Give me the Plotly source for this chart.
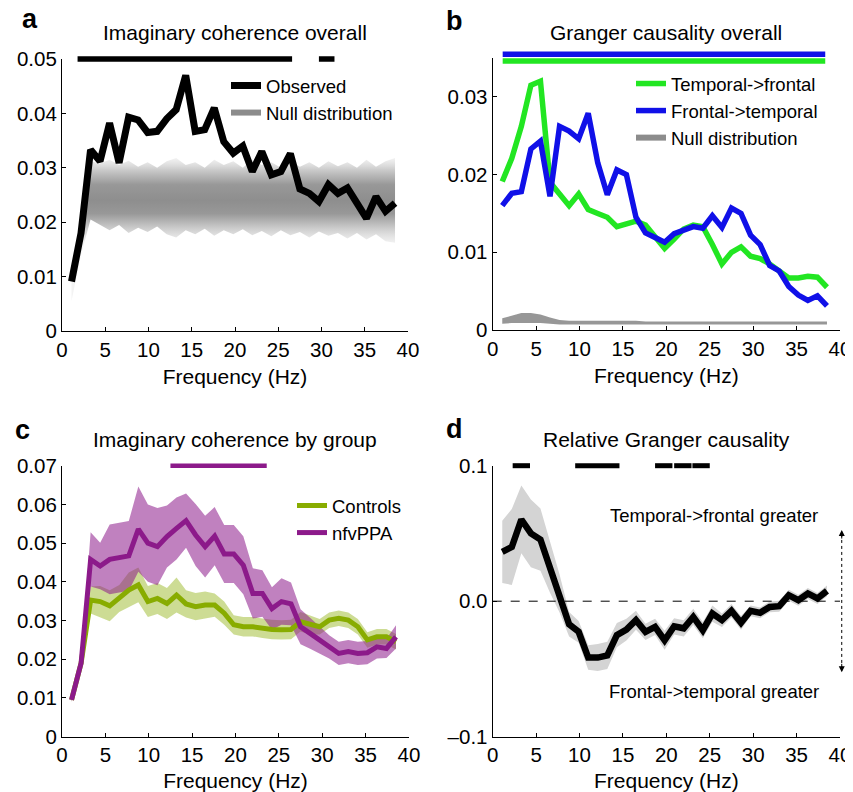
import plotly.graph_objects as go

# ---------------- data ----------------
freqs = [1.1, 2.2, 3.3, 4.4, 5.5, 6.6, 7.7, 8.8, 9.9, 11.0, 12.1, 13.2, 14.3, 15.4, 16.5,
         17.6, 18.7, 19.8, 20.9, 22.0, 23.1, 24.2, 25.3, 26.4, 27.5, 28.6, 29.7, 30.8,
         31.9, 33.0, 34.1, 35.2, 36.3, 37.4, 38.5]

# panel a
imcoh_observed = [0.0091, 0.0180, 0.0333, 0.0312, 0.0382, 0.0309, 0.0393, 0.0388, 0.0365,
                  0.0367, 0.0390, 0.0407, 0.0470, 0.0367, 0.0370, 0.0410, 0.0348, 0.0327,
                  0.0340, 0.0293, 0.0330, 0.0287, 0.0293, 0.0326, 0.0261, 0.0253, 0.0238,
                  0.0269, 0.0253, 0.0263, 0.0235, 0.0207, 0.0247, 0.0220, 0.0235]
imcoh_null_hi = [0.0100, 0.0200, 0.0312, 0.0308, 0.0315, 0.0305, 0.0313, 0.0302, 0.0310,
                 0.0300, 0.0312, 0.0318, 0.0305, 0.0310, 0.0300, 0.0315, 0.0305, 0.0312,
                 0.0300, 0.0315, 0.0305, 0.0310, 0.0300, 0.0312, 0.0302, 0.0310, 0.0300,
                 0.0312, 0.0303, 0.0310, 0.0300, 0.0315, 0.0302, 0.0312, 0.0318]
imcoh_null_lo = [0.0055, 0.0140, 0.0205, 0.0195, 0.0185, 0.0195, 0.0180, 0.0190, 0.0182,
                 0.0192, 0.0178, 0.0172, 0.0185, 0.0178, 0.0188, 0.0175, 0.0185, 0.0178,
                 0.0187, 0.0176, 0.0184, 0.0174, 0.0185, 0.0176, 0.0182, 0.0172, 0.0183,
                 0.0175, 0.0180, 0.0170, 0.0180, 0.0168, 0.0178, 0.0165, 0.0162]
imcoh_sig = [[1.8, 26.6], [29.7, 31.5]]

# panel b
gc_temp_front = [0.0191, 0.0221, 0.0262, 0.0315, 0.0320, 0.0190, 0.0175, 0.0160, 0.0175,
                 0.0155, 0.0150, 0.0145, 0.0133, 0.0137, 0.0140, 0.0135, 0.0120, 0.0105,
                 0.0117, 0.0130, 0.0135, 0.0133, 0.0110, 0.0085, 0.0100, 0.0107, 0.0095,
                 0.0092, 0.0085, 0.0075, 0.0067, 0.0067, 0.0069, 0.0068, 0.0055]
gc_front_temp = [0.0160, 0.0176, 0.0178, 0.0233, 0.0243, 0.0172, 0.0262, 0.0256, 0.0246,
                 0.0279, 0.0215, 0.0174, 0.0206, 0.0200, 0.0145, 0.0125, 0.0119, 0.0113,
                 0.0124, 0.0128, 0.0133, 0.0131, 0.0147, 0.0132, 0.0157, 0.0150, 0.0122,
                 0.0110, 0.0083, 0.0076, 0.0056, 0.0045, 0.0038, 0.0044, 0.0031]
gc_null_hi = [0.0015, 0.0019, 0.0022, 0.0022, 0.0020, 0.0016, 0.0013, 0.0012, 0.0012,
              0.0012, 0.0012, 0.0012, 0.0012, 0.0012, 0.0012, 0.0011, 0.0011, 0.0011,
              0.0011, 0.0011, 0.0011, 0.0011, 0.0011, 0.0011, 0.0011, 0.0011, 0.0011,
              0.0011, 0.0011, 0.0011, 0.0011, 0.0011, 0.0011, 0.0011, 0.0011]
gc_null_lo = [0.0008, 0.0009, 0.0009, 0.0009, 0.0009, 0.0008, 0.0007, 0.0007, 0.0007,
              0.0007, 0.0007, 0.0007, 0.0007, 0.0007, 0.0007, 0.0007, 0.0007, 0.0007,
              0.0007, 0.0007, 0.0007, 0.0007, 0.0007, 0.0007, 0.0007, 0.0007, 0.0007,
              0.0007, 0.0007, 0.0007, 0.0007, 0.0007, 0.0007, 0.0007, 0.0007]
gc_sig_front_temp = [1.15, 38.3]
gc_sig_temp_front = [1.15, 38.3]

# panel c
controls_mean = [0.0095, 0.0190, 0.0353, 0.0349, 0.0338, 0.0357, 0.0379, 0.0392, 0.0349,
                 0.0357, 0.0344, 0.0366, 0.0343, 0.0336, 0.0340, 0.0340, 0.0319, 0.0289,
                 0.0284, 0.0284, 0.0280, 0.0277, 0.0276, 0.0277, 0.0297, 0.0289, 0.0284,
                 0.0301, 0.0306, 0.0301, 0.0284, 0.0250, 0.0258, 0.0258, 0.0245]
controls_sem = [0.0005, 0.0010, 0.0035, 0.0040, 0.0040, 0.0035, 0.0045, 0.0045, 0.0040,
                0.0040, 0.0040, 0.0045, 0.0035, 0.0035, 0.0035, 0.0030, 0.0030, 0.0025,
                0.0025, 0.0025, 0.0025, 0.0025, 0.0025, 0.0025, 0.0025, 0.0025, 0.0020,
                0.0020, 0.0020, 0.0020, 0.0020, 0.0020, 0.0020, 0.0020, 0.0020]
nfvppa_mean = [0.0095, 0.0190, 0.0458, 0.0441, 0.0458, 0.0463, 0.0467, 0.0536, 0.0500,
               0.0491, 0.0517, 0.0538, 0.0558, 0.0521, 0.0491, 0.0518, 0.0472, 0.0472,
               0.0443, 0.0370, 0.0370, 0.0331, 0.0349, 0.0343, 0.0284, 0.0267, 0.0250,
               0.0232, 0.0215, 0.0220, 0.0215, 0.0217, 0.0232, 0.0228, 0.0258]
nfvppa_sem = [0.0005, 0.0010, 0.0070, 0.0060, 0.0090, 0.0090, 0.0090, 0.0110, 0.0100,
              0.0100, 0.0080, 0.0080, 0.0070, 0.0080, 0.0080, 0.0075, 0.0075, 0.0075,
              0.0075, 0.0065, 0.0060, 0.0055, 0.0060, 0.0055, 0.0045, 0.0040, 0.0035,
              0.0030, 0.0030, 0.0030, 0.0030, 0.0030, 0.0030, 0.0025, 0.0030]
group_sig = [12.5, 23.6]

# panel d
rel_gc_mean = [0.0364, 0.0400, 0.0603, 0.0500, 0.0455, 0.0253, 0.0057, -0.0170, -0.0226,
               -0.0416, -0.0416, -0.0400, -0.0250, -0.0210, -0.0140, -0.0226, -0.0190,
               -0.0288, -0.0185, -0.0200, -0.0116, -0.0214, -0.0091, -0.0140, -0.0071,
               -0.0160, -0.0071, -0.0086, -0.0042, -0.0037, 0.0044, 0.0007, 0.0057,
               0.0020, 0.0076]
rel_gc_err = [0.0230, 0.0280, 0.0250, 0.0250, 0.0230, 0.0190, 0.0140, 0.0090, 0.0080,
              0.0090, 0.0100, 0.0100, 0.0090, 0.0080, 0.0070, 0.0060, 0.0060, 0.0070,
              0.0060, 0.0060, 0.0060, 0.0060, 0.0060, 0.0050, 0.0050, 0.0050, 0.0040,
              0.0040, 0.0040, 0.0040, 0.0040, 0.0040, 0.0040, 0.0040, 0.0040]
rel_gc_sig = [[2.3, 4.3], [9.5, 14.6], [18.7, 20.7], [20.9, 22.9], [23.0, 25.0]]

x_ticks = [0, 5, 10, 15, 20, 25, 30, 35, 40]
ticks_a = [0, 0.01, 0.02, 0.03, 0.04, 0.05]
ticklab_a = ["0", "0.01", "0.02", "0.03", "0.04", "0.05"]
ticks_b = [0, 0.01, 0.02, 0.03]
ticklab_b = ["0", "0.01", "0.02", "0.03"]
ticks_c = [0, 0.01, 0.02, 0.03, 0.04, 0.05, 0.06, 0.07]
ticklab_c = ["0", "0.01", "0.02", "0.03", "0.04", "0.05", "0.06", "0.07"]
ticks_d = [-0.1, 0.0, 0.1]
ticklab_d = ["\u20130.1", "0.0", "0.1"]

# ---------------- styling ----------------
FONT = "Liberation Sans, Arial, Helvetica, sans-serif"
GREEN = "#22e622"
BLUE = "#1010e8"
OLIVE = "#88ac00"
PURPLE = "#8c1a8a"
GRAY = "#8c8c8c"

# the page body adds an 8 px margin; size the figure so it fills the window
OFF = 8
W, H = 853 - OFF, 792 - OFF


def px(X):
    return (X - OFF) / W


def py(Y):
    return 1 - (Y - OFF) / H


fig = go.Figure()


def band(x, lo, hi, xa, ya, color=None, **kw):
    fig.add_trace(go.Scatter(x=x, y=lo, mode="lines", line=dict(width=0),
                             xaxis=xa, yaxis=ya, showlegend=False, hoverinfo="skip"))
    fig.add_trace(go.Scatter(x=x, y=hi, mode="lines", line=dict(width=0), fill="tonexty",
                             fillcolor=color, xaxis=xa, yaxis=ya, showlegend=False,
                             hoverinfo="skip", **kw))


# ---- panel a ----
band(freqs, imcoh_null_lo, imcoh_null_hi, "x", "y", color="rgba(160,160,160,0.8)",
     fillgradient=dict(type="vertical", start=0.016, stop=0.032,
                       colorscale=[[0, "rgba(235,235,235,0.6)"], [0.2, "rgb(198,198,198)"],
                                   [0.35, "rgb(152,152,152)"], [0.5, "rgb(142,142,142)"],
                                   [0.68, "rgb(152,152,152)"], [0.85, "rgb(202,202,202)"],
                                   [1, "rgba(238,238,238,0.6)"]]))
fig.add_trace(go.Scatter(x=freqs, y=imcoh_observed, mode="lines", name="Observed",
                         line=dict(color="black", width=7), xaxis="x", yaxis="y",
                         legend="legend"))
fig.add_trace(go.Scatter(x=[None], y=[None], mode="lines", name="Null distribution",
                         line=dict(color=GRAY, width=6), xaxis="x", yaxis="y",
                         legend="legend"))

# ---- panel b ----
band(freqs, gc_null_lo, gc_null_hi, "x2", "y2", color="rgba(140,140,140,0.9)")
fig.add_trace(go.Scatter(x=freqs, y=gc_temp_front, mode="lines", name="Temporal->frontal",
                         line=dict(color=GREEN, width=5.5), xaxis="x2", yaxis="y2",
                         legend="legend2"))
fig.add_trace(go.Scatter(x=freqs, y=gc_front_temp, mode="lines", name="Frontal->temporal",
                         line=dict(color=BLUE, width=5.5), xaxis="x2", yaxis="y2",
                         legend="legend2"))
fig.add_trace(go.Scatter(x=[None], y=[None], mode="lines", name="Null distribution",
                         line=dict(color=GRAY, width=6), xaxis="x2", yaxis="y2",
                         legend="legend2"))

# ---- panel c ----
band(freqs, [m - s for m, s in zip(controls_mean, controls_sem)],
     [m + s for m, s in zip(controls_mean, controls_sem)], "x3", "y3",
     color="rgba(136,172,0,0.42)")
band(freqs, [m - s for m, s in zip(nfvppa_mean, nfvppa_sem)],
     [m + s for m, s in zip(nfvppa_mean, nfvppa_sem)], "x3", "y3",
     color="rgba(140,26,138,0.55)")
fig.add_trace(go.Scatter(x=freqs, y=controls_mean, mode="lines", name="Controls",
                         line=dict(color=OLIVE, width=5), xaxis="x3", yaxis="y3",
                         legend="legend3"))
fig.add_trace(go.Scatter(x=freqs, y=nfvppa_mean, mode="lines", name="nfvPPA",
                         line=dict(color=PURPLE, width=5), xaxis="x3", yaxis="y3",
                         legend="legend3"))

# ---- panel d ----
band(freqs, [m - e for m, e in zip(rel_gc_mean, rel_gc_err)],
     [m + e for m, e in zip(rel_gc_mean, rel_gc_err)], "x4", "y4",
     color="rgb(212,212,212)")
fig.add_trace(go.Scatter(x=[0, 40], y=[0, 0], mode="lines", line=dict(color="black", width=1, dash="dash"),
                         xaxis="x4", yaxis="y4", showlegend=False, hoverinfo="skip"))
fig.add_trace(go.Scatter(x=freqs, y=rel_gc_mean, mode="lines", line=dict(color="black", width=6.5),
                         xaxis="x4", yaxis="y4", showlegend=False))

# ---- significance bars (shapes at the top of each axis) ----
shapes = []
for s0, s1 in imcoh_sig:
    shapes.append(dict(type="line", xref="x", yref="y domain", x0=s0, x1=s1, y0=1, y1=1,
                       line=dict(color="black", width=5.5)))
shapes.append(dict(type="line", xref="x2", yref="y2 domain", x0=gc_sig_front_temp[0],
                   x1=gc_sig_front_temp[1], y0=1.0135, y1=1.0135, line=dict(color=BLUE, width=5.5)))
shapes.append(dict(type="line", xref="x2", yref="y2 domain", x0=gc_sig_temp_front[0],
                   x1=gc_sig_temp_front[1], y0=0.989, y1=0.989, line=dict(color=GREEN, width=5.5)))
shapes.append(dict(type="line", xref="x3", yref="y3 domain", x0=group_sig[0], x1=group_sig[1],
                   y0=1, y1=1, line=dict(color=PURPLE, width=4.5)))
for s0, s1 in rel_gc_sig:
    shapes.append(dict(type="line", xref="x4", yref="y4 domain", x0=s0, x1=s1, y0=1, y1=1,
                       line=dict(color="black", width=5)))
# dotted double arrow in panel d
shapes.append(dict(type="line", xref="x4 domain", yref="y4", x0=1.005, x1=1.005, y0=-0.05, y1=0.05,
                   line=dict(color="black", width=1, dash="dot")))

annotations = []
for yv, ay in [(0.0525, 10), (-0.0525, -10)]:
    annotations.append(dict(xref="x4 domain", yref="y4", x=1.005, y=yv, ax=0, ay=ay,
                            axref="pixel", ayref="pixel", text="", showarrow=True,
                            arrowhead=2, arrowsize=1.2, arrowwidth=1, arrowcolor="black"))
annotations.append(dict(xref="x4", yref="y4", x=25.5, y=0.0635, text="Temporal->frontal greater",
                        showarrow=False, font=dict(size=18.5, color="black", family=FONT)))
annotations.append(dict(xref="x4", yref="y4", x=25.5, y=-0.067, text="Frontal->temporal greater",
                        showarrow=False, font=dict(size=18.5, color="black", family=FONT)))

# titles
for txt, xc, yc in [("Imaginary coherence overall", 235, 32),
                    ("Granger causality overall", 666, 33),
                    ("Imaginary coherence by group", 235, 440),
                    ("Relative Granger causality", 666, 440)]:
    annotations.append(dict(xref="paper", yref="paper", x=px(xc), y=py(yc), text=txt,
                            showarrow=False, xanchor="center", yanchor="middle",
                            font=dict(size=21, color="black", family=FONT)))
# panel letters
for txt, xc, yc in [("a", 30, 19), ("b", 454, 21), ("c", 22, 430), ("d", 455, 429)]:
    annotations.append(dict(xref="paper", yref="paper", x=px(xc), y=py(yc),
                            text="<b>%s</b>" % txt, showarrow=False, xanchor="center",
                            yanchor="middle", font=dict(size=27, color="black", family=FONT)))

# ---------------- axes ----------------
def xax(domain, anchor):
    return dict(domain=domain, anchor=anchor, range=[0, 40], tickvals=x_ticks,
                ticks="inside", ticklen=4, tickwidth=1, tickcolor="black",
                showline=True, linecolor="black", linewidth=1.2, showgrid=False,
                zeroline=False, automargin=False,
                tickfont=dict(size=20.5, color="black", family=FONT),
                title=dict(text="Frequency (Hz)", font=dict(size=21, color="black", family=FONT),
                           standoff=9))


def yax(domain, anchor, rng, tv, tt):
    return dict(domain=domain, anchor=anchor, range=rng, tickvals=tv, ticktext=tt,
                ticks="inside", ticklen=4, tickwidth=1, tickcolor="black",
                showline=True, linecolor="black", linewidth=1.2, showgrid=False,
                zeroline=False, automargin=False,
                tickfont=dict(size=20.5, color="black", family=FONT))


legend_font = dict(size=18.5, color="black", family=FONT)
fig.update_layout(
    template="none",
    width=W, height=H, margin=dict(l=0, r=0, t=0, b=0, autoexpand=False),
    paper_bgcolor="white", plot_bgcolor="white",
    font=dict(family=FONT, color="black"),
    xaxis=xax([px(62), px(408)], "y"),
    yaxis=yax([py(331), py(59)], "x", [0, 0.05], ticks_a, ticklab_a),
    xaxis2=xax([px(492.7), px(840)], "y2"),
    yaxis2=yax([py(330), py(58)], "x2", [0, 0.035], ticks_b, ticklab_b),
    xaxis3=xax([px(62), px(409)], "y3"),
    yaxis3=yax([py(736.7), py(465.7)], "x3", [0, 0.07], ticks_c, ticklab_c),
    xaxis4=xax([px(492.7), px(840)], "y4"),
    yaxis4=yax([py(736.7), py(465.7)], "x4", [-0.1, 0.1], ticks_d, ticklab_d),
    legend=dict(x=px(226), y=py(67), xanchor="left", yanchor="top", traceorder="normal",
                bgcolor="rgba(0,0,0,0)", font=legend_font, itemwidth=30),
    legend2=dict(x=px(631), y=py(65), xanchor="left", yanchor="top", traceorder="normal",
                 bgcolor="rgba(0,0,0,0)", font=legend_font, itemwidth=30),
    legend3=dict(x=px(292), y=py(487), xanchor="left", yanchor="top", traceorder="normal",
                 bgcolor="rgba(0,0,0,0)", font=legend_font, itemwidth=30),
    shapes=shapes, annotations=annotations, showlegend=True,
)

fig.write_html("out.html", config={"displayModeBar": False})
